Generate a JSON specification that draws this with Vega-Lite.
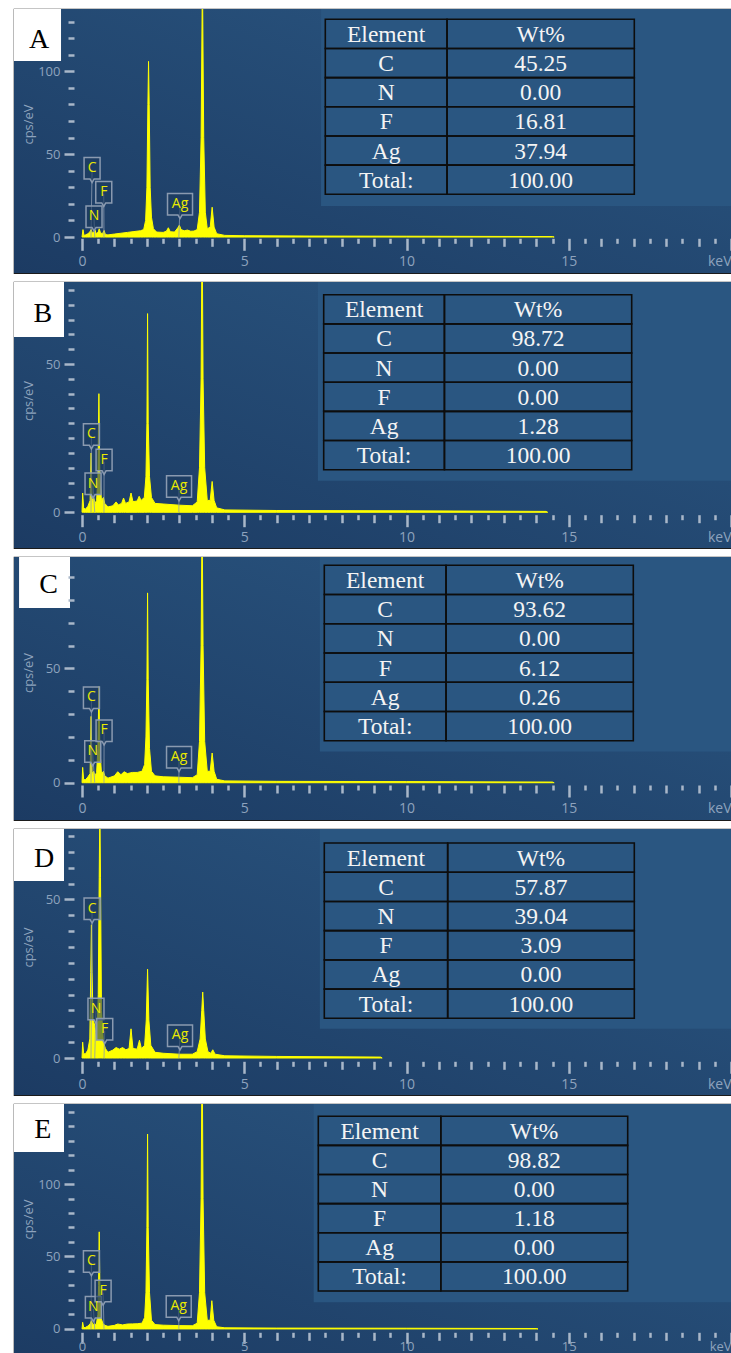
{
  "$schema": "https://vega.github.io/schema/vega-lite/v6.json",
  "background": "white",
  "padding": {"left": 13, "top": 8, "right": 0, "bottom": 0},
  "spacing": 7,
  "config": {
    "view": {"stroke": "#1b1b1b", "strokeWidth": 1.2},
    "axis": {"zindex": 1, "domain": false, "grid": false, "tickColor": "#a9b7c9", "tickWidth": 2.5, "labelColor": "#8ea3bd", "labelFont": "Open Sans", "titleColor": "#8ea3bd", "titleFont": "Open Sans", "titleFontWeight": "normal", "labelFlush": false, "labelOverlap": false}
  },
  "datasets": {
    "sA": [{"keV":0,"cps":0},{"keV":0.03,"cps":4.5},{"keV":0.06,"cps":1},{"keV":0.1,"cps":1.2},{"keV":0.18,"cps":2},{"keV":0.24,"cps":3},{"keV":0.28,"cps":4.5},{"keV":0.32,"cps":2.5},{"keV":0.37,"cps":3},{"keV":0.4,"cps":4.2},{"keV":0.44,"cps":2},{"keV":0.5,"cps":3},{"keV":0.53,"cps":5},{"keV":0.57,"cps":2.5},{"keV":0.63,"cps":2},{"keV":0.68,"cps":4},{"keV":0.72,"cps":1.5},{"keV":0.8,"cps":1.3},{"keV":1,"cps":1.8},{"keV":1.2,"cps":2.3},{"keV":1.4,"cps":2.8},{"keV":1.6,"cps":3.3},{"keV":1.8,"cps":3.8},{"keV":1.9,"cps":4.5},{"keV":1.96,"cps":10},{"keV":2,"cps":30},{"keV":2.03,"cps":80},{"keV":2.05,"cps":106},{"keV":2.07,"cps":80},{"keV":2.1,"cps":30},{"keV":2.14,"cps":12},{"keV":2.2,"cps":5},{"keV":2.3,"cps":3},{"keV":2.5,"cps":2.8},{"keV":2.6,"cps":3.5},{"keV":2.66,"cps":5.6},{"keV":2.72,"cps":3.2},{"keV":2.85,"cps":3},{"keV":2.95,"cps":5.5},{"keV":3,"cps":7.2},{"keV":3.05,"cps":4.5},{"keV":3.15,"cps":3.8},{"keV":3.25,"cps":4.2},{"keV":3.35,"cps":3.5},{"keV":3.45,"cps":3.6},{"keV":3.55,"cps":4.5},{"keV":3.62,"cps":15},{"keV":3.67,"cps":60},{"keV":3.71,"cps":160},{"keV":3.75,"cps":60},{"keV":3.8,"cps":15},{"keV":3.86,"cps":5},{"keV":3.95,"cps":6},{"keV":4.01,"cps":18},{"keV":4.07,"cps":6},{"keV":4.15,"cps":2},{"keV":4.4,"cps":1},{"keV":5,"cps":0.8},{"keV":7,"cps":0.6},{"keV":10,"cps":0.5},{"keV":14.5,"cps":0.3},{"keV":14.55,"cps":0}],
    "sB": [{"keV":0,"cps":0},{"keV":0.02,"cps":6.5},{"keV":0.05,"cps":1.5},{"keV":0.1,"cps":1},{"keV":0.18,"cps":2},{"keV":0.25,"cps":4},{"keV":0.28,"cps":20},{"keV":0.31,"cps":4},{"keV":0.36,"cps":5},{"keV":0.4,"cps":3},{"keV":0.45,"cps":4},{"keV":0.49,"cps":12},{"keV":0.52,"cps":40},{"keV":0.55,"cps":12},{"keV":0.6,"cps":4},{"keV":0.66,"cps":5},{"keV":0.7,"cps":3},{"keV":0.8,"cps":1.8},{"keV":0.95,"cps":2.2},{"keV":1.05,"cps":3.5},{"keV":1.12,"cps":2.5},{"keV":1.22,"cps":3},{"keV":1.28,"cps":4.8},{"keV":1.34,"cps":3},{"keV":1.45,"cps":3.5},{"keV":1.51,"cps":6.5},{"keV":1.57,"cps":3.6},{"keV":1.7,"cps":3.8},{"keV":1.76,"cps":5.4},{"keV":1.82,"cps":4},{"keV":1.92,"cps":5},{"keV":1.97,"cps":12},{"keV":2,"cps":30},{"keV":2.02,"cps":67},{"keV":2.04,"cps":30},{"keV":2.08,"cps":12},{"keV":2.14,"cps":5},{"keV":2.25,"cps":3},{"keV":2.5,"cps":2.8},{"keV":3,"cps":2.4},{"keV":3.4,"cps":2.2},{"keV":3.55,"cps":3.5},{"keV":3.62,"cps":15},{"keV":3.67,"cps":45},{"keV":3.7,"cps":100},{"keV":3.73,"cps":45},{"keV":3.78,"cps":15},{"keV":3.86,"cps":4},{"keV":3.95,"cps":4},{"keV":4.01,"cps":10.4},{"keV":4.07,"cps":4},{"keV":4.15,"cps":1.5},{"keV":4.4,"cps":0.8},{"keV":6,"cps":0.6},{"keV":10,"cps":0.5},{"keV":14.3,"cps":0.3},{"keV":14.35,"cps":0}],
    "sC": [{"keV":0,"cps":0},{"keV":0.02,"cps":6.7},{"keV":0.05,"cps":1.5},{"keV":0.1,"cps":1.2},{"keV":0.18,"cps":2.5},{"keV":0.25,"cps":4},{"keV":0.28,"cps":29},{"keV":0.31,"cps":4},{"keV":0.36,"cps":5},{"keV":0.4,"cps":3},{"keV":0.45,"cps":4.5},{"keV":0.49,"cps":15},{"keV":0.52,"cps":42},{"keV":0.55,"cps":15},{"keV":0.6,"cps":4},{"keV":0.66,"cps":5},{"keV":0.7,"cps":3},{"keV":0.8,"cps":2},{"keV":1,"cps":3},{"keV":1.1,"cps":4.8},{"keV":1.2,"cps":3.5},{"keV":1.3,"cps":4.8},{"keV":1.4,"cps":4},{"keV":1.55,"cps":4.5},{"keV":1.7,"cps":4.5},{"keV":1.85,"cps":5},{"keV":1.93,"cps":8},{"keV":1.97,"cps":20},{"keV":2,"cps":45},{"keV":2.02,"cps":83},{"keV":2.04,"cps":45},{"keV":2.08,"cps":15},{"keV":2.14,"cps":5},{"keV":2.25,"cps":3},{"keV":2.5,"cps":2.6},{"keV":3,"cps":2.4},{"keV":3.4,"cps":2.2},{"keV":3.55,"cps":3.5},{"keV":3.62,"cps":18},{"keV":3.67,"cps":60},{"keV":3.7,"cps":120},{"keV":3.73,"cps":60},{"keV":3.78,"cps":18},{"keV":3.86,"cps":5},{"keV":3.95,"cps":5},{"keV":4.01,"cps":13},{"keV":4.07,"cps":5},{"keV":4.15,"cps":1.5},{"keV":4.4,"cps":0.8},{"keV":6,"cps":0.6},{"keV":10,"cps":0.5},{"keV":14.5,"cps":0.3},{"keV":14.55,"cps":0}],
    "sD": [{"keV":0,"cps":0},{"keV":0.02,"cps":5},{"keV":0.05,"cps":1.5},{"keV":0.1,"cps":1.2},{"keV":0.18,"cps":2.5},{"keV":0.24,"cps":6},{"keV":0.27,"cps":27},{"keV":0.29,"cps":42},{"keV":0.31,"cps":27},{"keV":0.34,"cps":12},{"keV":0.38,"cps":10.8},{"keV":0.42,"cps":8},{"keV":0.46,"cps":6},{"keV":0.5,"cps":20},{"keV":0.53,"cps":57},{"keV":0.55,"cps":80},{"keV":0.57,"cps":57},{"keV":0.6,"cps":15},{"keV":0.66,"cps":5},{"keV":0.72,"cps":3},{"keV":0.8,"cps":1.8},{"keV":0.95,"cps":2.5},{"keV":1.05,"cps":3.3},{"keV":1.15,"cps":2.8},{"keV":1.25,"cps":3.3},{"keV":1.35,"cps":2.6},{"keV":1.45,"cps":3},{"keV":1.51,"cps":9.2},{"keV":1.57,"cps":3},{"keV":1.7,"cps":2.8},{"keV":1.77,"cps":5.6},{"keV":1.83,"cps":3},{"keV":1.93,"cps":4},{"keV":1.98,"cps":12},{"keV":2.02,"cps":28},{"keV":2.06,"cps":12},{"keV":2.12,"cps":4},{"keV":2.25,"cps":1.8},{"keV":2.5,"cps":1.5},{"keV":3,"cps":1.2},{"keV":3.4,"cps":1.2},{"keV":3.55,"cps":2},{"keV":3.64,"cps":6},{"keV":3.69,"cps":15},{"keV":3.72,"cps":20.8},{"keV":3.75,"cps":15},{"keV":3.8,"cps":6},{"keV":3.88,"cps":2},{"keV":3.97,"cps":1.5},{"keV":4.03,"cps":2.6},{"keV":4.1,"cps":1.2},{"keV":4.4,"cps":0.7},{"keV":6,"cps":0.5},{"keV":9.2,"cps":0.3},{"keV":9.25,"cps":0}],
    "sE": [{"keV":0,"cps":0},{"keV":0.02,"cps":4.6},{"keV":0.05,"cps":1},{"keV":0.1,"cps":1},{"keV":0.18,"cps":2},{"keV":0.25,"cps":3.5},{"keV":0.29,"cps":5.7},{"keV":0.33,"cps":3},{"keV":0.38,"cps":3.5},{"keV":0.44,"cps":3},{"keV":0.49,"cps":10},{"keV":0.51,"cps":30},{"keV":0.53,"cps":67},{"keV":0.55,"cps":30},{"keV":0.58,"cps":8},{"keV":0.64,"cps":4},{"keV":0.7,"cps":2.5},{"keV":0.8,"cps":1.8},{"keV":1,"cps":2.5},{"keV":1.1,"cps":3.4},{"keV":1.25,"cps":2.8},{"keV":1.4,"cps":3.4},{"keV":1.55,"cps":3.5},{"keV":1.7,"cps":3.6},{"keV":1.85,"cps":4},{"keV":1.93,"cps":8},{"keV":1.97,"cps":25},{"keV":2,"cps":70},{"keV":2.02,"cps":134.5},{"keV":2.04,"cps":70},{"keV":2.08,"cps":25},{"keV":2.14,"cps":6},{"keV":2.25,"cps":3},{"keV":2.5,"cps":2.6},{"keV":3,"cps":2.3},{"keV":3.4,"cps":2.2},{"keV":3.55,"cps":4},{"keV":3.62,"cps":25},{"keV":3.67,"cps":90},{"keV":3.7,"cps":200},{"keV":3.73,"cps":90},{"keV":3.78,"cps":25},{"keV":3.86,"cps":6},{"keV":3.95,"cps":6},{"keV":4,"cps":19.5},{"keV":4.06,"cps":6},{"keV":4.15,"cps":1.5},{"keV":4.4,"cps":0.8},{"keV":6,"cps":0.6},{"keV":10,"cps":0.5},{"keV":14,"cps":0.3},{"keV":14.05,"cps":0}],
    "tags": [
      {"p":"A","el":"C","keV":0.31,"cps":40.4,"line":0.277},{"p":"A","el":"N","keV":0.37,"cps":11.2,"line":0.392},{"p":"A","el":"F","keV":0.67,"cps":26,"line":0.677},{"p":"A","el":"Ag","keV":3.02,"cps":18.7,"line":2.984},
      {"p":"B","el":"C","keV":0.29,"cps":25.6,"line":0.277},{"p":"B","el":"N","keV":0.34,"cps":9,"line":0.392},{"p":"B","el":"F","keV":0.68,"cps":17,"line":0.677},{"p":"B","el":"Ag","keV":2.99,"cps":8.1,"line":2.984},
      {"p":"C","el":"C","keV":0.29,"cps":36.4,"line":0.277},{"p":"C","el":"N","keV":0.33,"cps":12.9,"line":0.392},{"p":"C","el":"F","keV":0.68,"cps":22,"line":0.677},{"p":"C","el":"Ag","keV":2.99,"cps":10.4,"line":2.984},
      {"p":"D","el":"C","keV":0.31,"cps":46.5,"line":0.277},{"p":"D","el":"N","keV":0.43,"cps":14.9,"line":0.392},{"p":"D","el":"F","keV":0.7,"cps":8.5,"line":0.677},{"p":"D","el":"Ag","keV":3.02,"cps":6.5,"line":2.984},
      {"p":"E","el":"C","keV":0.29,"cps":45.4,"line":0.277},{"p":"E","el":"N","keV":0.35,"cps":13.8,"line":0.392},{"p":"E","el":"F","keV":0.65,"cps":25,"line":0.677},{"p":"E","el":"Ag","keV":2.98,"cps":14.3,"line":2.984}
    ],
    "tbl": [
      {"p":"A","item":"Element","wt":"Wt%"},{"p":"A","item":"C","wt":"45.25"},{"p":"A","item":"N","wt":"0.00"},{"p":"A","item":"F","wt":"16.81"},{"p":"A","item":"Ag","wt":"37.94"},{"p":"A","item":"Total:","wt":"100.00"},
      {"p":"B","item":"Element","wt":"Wt%"},{"p":"B","item":"C","wt":"98.72"},{"p":"B","item":"N","wt":"0.00"},{"p":"B","item":"F","wt":"0.00"},{"p":"B","item":"Ag","wt":"1.28"},{"p":"B","item":"Total:","wt":"100.00"},
      {"p":"C","item":"Element","wt":"Wt%"},{"p":"C","item":"C","wt":"93.62"},{"p":"C","item":"N","wt":"0.00"},{"p":"C","item":"F","wt":"6.12"},{"p":"C","item":"Ag","wt":"0.26"},{"p":"C","item":"Total:","wt":"100.00"},
      {"p":"D","item":"Element","wt":"Wt%"},{"p":"D","item":"C","wt":"57.87"},{"p":"D","item":"N","wt":"39.04"},{"p":"D","item":"F","wt":"3.09"},{"p":"D","item":"Ag","wt":"0.00"},{"p":"D","item":"Total:","wt":"100.00"},
      {"p":"E","item":"Element","wt":"Wt%"},{"p":"E","item":"C","wt":"98.82"},{"p":"E","item":"N","wt":"0.00"},{"p":"E","item":"F","wt":"1.18"},{"p":"E","item":"Ag","wt":"0.00"},{"p":"E","item":"Total:","wt":"100.00"}
    ]
  },
  "vconcat": [
    {
      "width": 718, "height": 264,
      "resolve": {"scale": {"x": "independent", "y": "independent"}},
      "layer": [
        {
          "resolve": {"axis": {"x": "independent", "y": "independent"}},
          "layer": [
            {"data": {"values": [{}]}, "mark": {"type": "rect", "fill": {"gradient": "linear", "x1": 0, "y1": 1, "x2": 1, "y2": 0, "stops": [{"offset": 0, "color": "#1c3b63"}, {"offset": 1, "color": "#2b5782"}]}}, "encoding": {"x": {"value": 0}, "x2": {"value": "width"}, "y": {"value": 0}, "y2": {"value": "height"}}},
            {"data": {"name": "sA"}, "mark": {"type": "area", "color": "#ffff00", "stroke": "#ffff00", "strokeWidth": 1, "clip": true},
             "encoding": {
               "x": {"field": "keV", "type": "quantitative", "scale": {"domain": [-2.096, 20.03], "nice": false, "zero": false},
                     "axis": {"orient": "bottom", "zindex": 2, "values": [0,0.5,1,1.5,2,2.5,3,3.5,4,4.5,5,5.5,6,6.5,7,7.5,8,8.5,9,9.5,10,10.5,11,11.5,12,12.5,13,13.5,14,14.5,15,15.5,16,16.5,17,17.5,18,18.5,19,19.5,20], "labelExpr": "datum.value % 5 === 0 ? (datum.value === 20 ? 'keV' : format(datum.value, 'd')) : ''", "labelAlign": {"condition": {"test": "datum.value === 20", "value": "right"}, "value": "center"}, "tickSize": {"condition": [{"test": "datum.value % 5 === 0", "value": 12}, {"test": "datum.value % 1 === 0", "value": 8}], "value": 5}, "offset": -34.7, "title": null, "labelFontSize": 14, "labelPadding": 4}},
               "y": {"field": "cps", "type": "quantitative", "scale": {"domain": [-21.7, 137.6], "nice": false, "zero": false},
                     "axis": {"orient": "left", "zindex": 2, "values": [0,10,20,30,40,50,60,70,80,90,100,110,120,130], "labelExpr": "datum.value === 0 || datum.value === 50 || datum.value === 100 ? format(datum.value, 'd') : ''", "tickSize": {"condition": {"test": "datum.value === 0 || datum.value === 50 || datum.value === 100", "value": 10}, "value": 6}, "offset": -60, "title": "cps/eV", "titleX": -39, "titleY": 115, "titleAngle": 270, "titleBaseline": "bottom", "titleAlign": "center", "titleFontSize": 13, "labelFontSize": 13, "labelPadding": 4}}
             }},
            {"data": {"values": [{}]}, "mark": {"type": "rect", "fill": "#2a5681"}, "encoding": {"x": {"datum": 7.365, "type": "quantitative", "axis": null}, "x2": {"datum": 20.03}, "y": {"datum": 18.7, "type": "quantitative", "axis": null}, "y2": {"datum": 137.6}}},
            {"data": {"name": "tags"}, "transform": [{"filter": "datum.p === 'A'"}], "mark": {"type": "rule", "color": "#8c9bb0", "strokeWidth": 1, "opacity": 0.8},
             "encoding": {"x": {"field": "keV", "type": "quantitative", "axis": null}, "x2": {"field": "line"}, "y": {"field": "cps", "type": "quantitative", "axis": null}, "y2": {"datum": 0}}},
            {"data": {"name": "tags"}, "transform": [{"filter": "datum.p === 'A' && datum.el !== 'Ag'"}], "mark": {"type": "point", "shape": "M-0.64,-1L0.64,-1L0.64,0.72L0.16,0.72L0,1L-0.16,0.72L-0.64,0.72Z", "size": 625, "filled": true, "fill": "#1d3a5e", "fillOpacity": 0.6, "stroke": "#8a9ab0", "strokeWidth": 1.5, "opacity": 1},
             "encoding": {"x": {"field": "keV", "type": "quantitative", "axis": null}, "y": {"field": "cps", "type": "quantitative", "axis": null}}},
            {"data": {"name": "tags"}, "transform": [{"filter": "datum.p === 'A' && datum.el === 'Ag'"}], "mark": {"type": "point", "shape": "M-1,-1L1,-1L1,0.72L0.16,0.72L0,1L-0.16,0.72L-1,0.72Z", "size": 625, "filled": true, "fill": "#1d3a5e", "fillOpacity": 0.6, "stroke": "#8a9ab0", "strokeWidth": 1.5, "opacity": 1},
             "encoding": {"x": {"field": "keV", "type": "quantitative", "axis": null}, "y": {"field": "cps", "type": "quantitative", "axis": null}}},
            {"data": {"name": "tags"}, "transform": [{"filter": "datum.p === 'A'"}], "mark": {"type": "text", "font": "Open Sans", "fontSize": 14, "color": "#eaea00", "baseline": "middle", "dy": -2},
             "encoding": {"x": {"field": "keV", "type": "quantitative", "axis": null}, "y": {"field": "cps", "type": "quantitative", "axis": null}, "text": {"field": "el"}}},
            {"data": {"values": [{}]}, "mark": {"type": "rect", "fill": "white"}, "encoding": {"x": {"datum": -2.096, "type": "quantitative", "axis": null}, "x2": {"datum": -0.647}, "y": {"datum": 106.2, "type": "quantitative", "axis": null}, "y2": {"datum": 137.6}}},
            {"data": {"values": [{"panel": "A"}]}, "mark": {"type": "text", "font": "Liberation Serif", "fontSize": 28, "color": "black", "baseline": "alphabetic"}, "encoding": {"x": {"datum": -1.325, "type": "quantitative", "axis": null}, "y": {"datum": 114.2, "type": "quantitative", "axis": null}, "text": {"field": "panel"}}}
          ]
        },
        {
          "data": {"name": "tbl"},
          "transform": [{"filter": "datum.p === 'A'"}],
          "layer": [
            {"mark": {"type": "rect", "fill": "transparent", "stroke": "#0d0d0d", "strokeWidth": 1.6}, "encoding": {"x": {"datum": 0, "type": "quantitative", "scale": {"domain": [0, 5], "range": [311.3, 620.3], "nice": false, "zero": false}, "axis": null}, "x2": {"datum": 1.97}, "y": {"field": "item", "type": "nominal", "sort": null, "scale": {"domain": ["Element","C","N","F","Ag","Total:"], "range": [10.3, 185.3], "paddingInner": 0, "paddingOuter": 0}, "axis": null}}},
            {"mark": {"type": "rect", "fill": "transparent", "stroke": "#0d0d0d", "strokeWidth": 1.6}, "encoding": {"x": {"datum": 1.97, "type": "quantitative", "scale": {"domain": [0, 5], "range": [311.3, 620.3], "nice": false, "zero": false}, "axis": null}, "x2": {"datum": 5}, "y": {"field": "item", "type": "nominal", "sort": null, "scale": {"domain": ["Element","C","N","F","Ag","Total:"], "range": [10.3, 185.3], "paddingInner": 0, "paddingOuter": 0}, "axis": null}}},
            {"mark": {"type": "text", "font": "Liberation Serif", "fontSize": 23.5, "color": "#f4f4f4", "baseline": "middle", "dy": 1}, "encoding": {"x": {"datum": 0.985, "type": "quantitative", "scale": {"domain": [0, 5], "range": [311.3, 620.3], "nice": false, "zero": false}, "axis": null}, "y": {"field": "item", "type": "nominal", "sort": null, "scale": {"domain": ["Element","C","N","F","Ag","Total:"], "range": [10.3, 185.3], "paddingInner": 0, "paddingOuter": 0}, "axis": null}, "text": {"field": "item"}}},
            {"mark": {"type": "text", "font": "Liberation Serif", "fontSize": 23.5, "color": "#f4f4f4", "baseline": "middle", "dy": 1}, "encoding": {"x": {"datum": 3.485, "type": "quantitative", "scale": {"domain": [0, 5], "range": [311.3, 620.3], "nice": false, "zero": false}, "axis": null}, "y": {"field": "item", "type": "nominal", "sort": null, "scale": {"domain": ["Element","C","N","F","Ag","Total:"], "range": [10.3, 185.3], "paddingInner": 0, "paddingOuter": 0}, "axis": null}, "text": {"field": "wt"}}}
          ]
        }
      ]
    },
    {
      "width": 718, "height": 266,
      "resolve": {"scale": {"x": "independent", "y": "independent"}},
      "layer": [
        {
          "resolve": {"axis": {"x": "independent", "y": "independent"}},
          "layer": [
            {"data": {"values": [{}]}, "mark": {"type": "rect", "fill": {"gradient": "linear", "x1": 0, "y1": 1, "x2": 1, "y2": 0, "stops": [{"offset": 0, "color": "#1c3b63"}, {"offset": 1, "color": "#2b5782"}]}}, "encoding": {"x": {"value": 0}, "x2": {"value": "width"}, "y": {"value": 0}, "y2": {"value": "height"}}},
            {"data": {"name": "sB"}, "mark": {"type": "area", "color": "#ffff00", "stroke": "#ffff00", "strokeWidth": 1, "clip": true},
             "encoding": {
               "x": {"field": "keV", "type": "quantitative", "scale": {"domain": [-2.096, 20.03], "nice": false, "zero": false},
                     "axis": {"orient": "bottom", "zindex": 2, "values": [0,0.5,1,1.5,2,2.5,3,3.5,4,4.5,5,5.5,6,6.5,7,7.5,8,8.5,9,9.5,10,10.5,11,11.5,12,12.5,13,13.5,14,14.5,15,15.5,16,16.5,17,17.5,18,18.5,19,19.5,20], "labelExpr": "datum.value % 5 === 0 ? (datum.value === 20 ? 'keV' : format(datum.value, 'd')) : ''", "labelAlign": {"condition": {"test": "datum.value === 20", "value": "right"}, "value": "center"}, "tickSize": {"condition": [{"test": "datum.value % 5 === 0", "value": 12}, {"test": "datum.value % 1 === 0", "value": 8}], "value": 5}, "offset": -33.3, "title": null, "labelFontSize": 14, "labelPadding": 4}},
               "y": {"field": "cps", "type": "quantitative", "scale": {"domain": [-12.04, 77.65], "nice": false, "zero": false},
                     "axis": {"orient": "left", "zindex": 2, "values": [0,5,10,15,20,25,30,35,40,45,50,55,60,65,70,75], "labelExpr": "datum.value === 0 || datum.value === 50 ? format(datum.value, 'd') : ''", "tickSize": {"condition": {"test": "datum.value === 0 || datum.value === 50", "value": 10}, "value": 6}, "offset": -60, "title": "cps/eV", "titleX": -39, "titleY": 118.5, "titleAngle": 270, "titleBaseline": "bottom", "titleAlign": "center", "titleFontSize": 13, "labelFontSize": 13, "labelPadding": 4}}
             }},
            {"data": {"values": [{}]}, "mark": {"type": "rect", "fill": "#2a5681"}, "encoding": {"x": {"datum": 7.27, "type": "quantitative", "axis": null}, "x2": {"datum": 20.03}, "y": {"datum": 10.65, "type": "quantitative", "axis": null}, "y2": {"datum": 77.65}}},
            {"data": {"name": "tags"}, "transform": [{"filter": "datum.p === 'B'"}], "mark": {"type": "rule", "color": "#8c9bb0", "strokeWidth": 1, "opacity": 0.8},
             "encoding": {"x": {"field": "keV", "type": "quantitative", "axis": null}, "x2": {"field": "line"}, "y": {"field": "cps", "type": "quantitative", "axis": null}, "y2": {"datum": 0}}},
            {"data": {"name": "tags"}, "transform": [{"filter": "datum.p === 'B' && datum.el !== 'Ag'"}], "mark": {"type": "point", "shape": "M-0.64,-1L0.64,-1L0.64,0.72L0.16,0.72L0,1L-0.16,0.72L-0.64,0.72Z", "size": 625, "filled": true, "fill": "#1d3a5e", "fillOpacity": 0.6, "stroke": "#8a9ab0", "strokeWidth": 1.5, "opacity": 1},
             "encoding": {"x": {"field": "keV", "type": "quantitative", "axis": null}, "y": {"field": "cps", "type": "quantitative", "axis": null}}},
            {"data": {"name": "tags"}, "transform": [{"filter": "datum.p === 'B' && datum.el === 'Ag'"}], "mark": {"type": "point", "shape": "M-1,-1L1,-1L1,0.72L0.16,0.72L0,1L-0.16,0.72L-1,0.72Z", "size": 625, "filled": true, "fill": "#1d3a5e", "fillOpacity": 0.6, "stroke": "#8a9ab0", "strokeWidth": 1.5, "opacity": 1},
             "encoding": {"x": {"field": "keV", "type": "quantitative", "axis": null}, "y": {"field": "cps", "type": "quantitative", "axis": null}}},
            {"data": {"name": "tags"}, "transform": [{"filter": "datum.p === 'B'"}], "mark": {"type": "text", "font": "Open Sans", "fontSize": 14, "color": "#eaea00", "baseline": "middle", "dy": -2},
             "encoding": {"x": {"field": "keV", "type": "quantitative", "axis": null}, "y": {"field": "cps", "type": "quantitative", "axis": null}, "text": {"field": "el"}}},
            {"data": {"values": [{}]}, "mark": {"type": "rect", "fill": "white"}, "encoding": {"x": {"datum": -2.096, "type": "quantitative", "axis": null}, "x2": {"datum": -0.555}, "y": {"datum": 59.1, "type": "quantitative", "axis": null}, "y2": {"datum": 77.65}}},
            {"data": {"values": [{"panel": "B"}]}, "mark": {"type": "text", "font": "Liberation Serif", "fontSize": 28, "color": "black", "baseline": "alphabetic"}, "encoding": {"x": {"datum": -1.21, "type": "quantitative", "axis": null}, "y": {"datum": 64.1, "type": "quantitative", "axis": null}, "text": {"field": "panel"}}}
          ]
        },
        {
          "data": {"name": "tbl"},
          "transform": [{"filter": "datum.p === 'B'"}],
          "layer": [
            {"mark": {"type": "rect", "fill": "transparent", "stroke": "#0d0d0d", "strokeWidth": 1.6}, "encoding": {"x": {"datum": 0, "type": "quantitative", "scale": {"domain": [0, 5], "range": [309.7, 617.7], "nice": false, "zero": false}, "axis": null}, "x2": {"datum": 1.96}, "y": {"field": "item", "type": "nominal", "sort": null, "scale": {"domain": ["Element","C","N","F","Ag","Total:"], "range": [12.7, 187.7], "paddingInner": 0, "paddingOuter": 0}, "axis": null}}},
            {"mark": {"type": "rect", "fill": "transparent", "stroke": "#0d0d0d", "strokeWidth": 1.6}, "encoding": {"x": {"datum": 1.96, "type": "quantitative", "scale": {"domain": [0, 5], "range": [309.7, 617.7], "nice": false, "zero": false}, "axis": null}, "x2": {"datum": 5}, "y": {"field": "item", "type": "nominal", "sort": null, "scale": {"domain": ["Element","C","N","F","Ag","Total:"], "range": [12.7, 187.7], "paddingInner": 0, "paddingOuter": 0}, "axis": null}}},
            {"mark": {"type": "text", "font": "Liberation Serif", "fontSize": 23.5, "color": "#f4f4f4", "baseline": "middle", "dy": 1}, "encoding": {"x": {"datum": 0.98, "type": "quantitative", "scale": {"domain": [0, 5], "range": [309.7, 617.7], "nice": false, "zero": false}, "axis": null}, "y": {"field": "item", "type": "nominal", "sort": null, "scale": {"domain": ["Element","C","N","F","Ag","Total:"], "range": [12.7, 187.7], "paddingInner": 0, "paddingOuter": 0}, "axis": null}, "text": {"field": "item"}}},
            {"mark": {"type": "text", "font": "Liberation Serif", "fontSize": 23.5, "color": "#f4f4f4", "baseline": "middle", "dy": 1}, "encoding": {"x": {"datum": 3.48, "type": "quantitative", "scale": {"domain": [0, 5], "range": [309.7, 617.7], "nice": false, "zero": false}, "axis": null}, "y": {"field": "item", "type": "nominal", "sort": null, "scale": {"domain": ["Element","C","N","F","Ag","Total:"], "range": [12.7, 187.7], "paddingInner": 0, "paddingOuter": 0}, "axis": null}, "text": {"field": "wt"}}}
          ]
        }
      ]
    },
    {
      "width": 718, "height": 263,
      "resolve": {"scale": {"x": "independent", "y": "independent"}},
      "layer": [
        {
          "resolve": {"axis": {"x": "independent", "y": "independent"}},
          "layer": [
            {"data": {"values": [{}]}, "mark": {"type": "rect", "fill": {"gradient": "linear", "x1": 0, "y1": 1, "x2": 1, "y2": 0, "stops": [{"offset": 0, "color": "#1c3b63"}, {"offset": 1, "color": "#2b5782"}]}}, "encoding": {"x": {"value": 0}, "x2": {"value": "width"}, "y": {"value": 0}, "y2": {"value": "height"}}},
            {"data": {"name": "sC"}, "mark": {"type": "area", "color": "#ffff00", "stroke": "#ffff00", "strokeWidth": 1, "clip": true},
             "encoding": {
               "x": {"field": "keV", "type": "quantitative", "scale": {"domain": [-2.096, 20.03], "nice": false, "zero": false},
                     "axis": {"orient": "bottom", "zindex": 2, "values": [0,0.5,1,1.5,2,2.5,3,3.5,4,4.5,5,5.5,6,6.5,7,7.5,8,8.5,9,9.5,10,10.5,11,11.5,12,12.5,13,13.5,14,14.5,15,15.5,16,16.5,17,17.5,18,18.5,19,19.5,20], "labelExpr": "datum.value % 5 === 0 ? (datum.value === 20 ? 'keV' : format(datum.value, 'd')) : ''", "labelAlign": {"condition": {"test": "datum.value === 20", "value": "right"}, "value": "center"}, "tickSize": {"condition": [{"test": "datum.value % 5 === 0", "value": 12}, {"test": "datum.value % 1 === 0", "value": 8}], "value": 5}, "offset": -35, "title": null, "labelFontSize": 14, "labelPadding": 4}},
               "y": {"field": "cps", "type": "quantitative", "scale": {"domain": [-16.3, 98.7], "nice": false, "zero": false},
                     "axis": {"orient": "left", "zindex": 2, "values": [0,10,20,30,40,50,60,70,80,90], "labelExpr": "datum.value === 0 || datum.value === 50 ? format(datum.value, 'd') : ''", "tickSize": {"condition": {"test": "datum.value === 0 || datum.value === 50", "value": 10}, "value": 6}, "offset": -60, "title": "cps/eV", "titleX": -39, "titleY": 115.5, "titleAngle": 270, "titleBaseline": "bottom", "titleAlign": "center", "titleFontSize": 13, "labelFontSize": 13, "labelPadding": 4}}
             }},
            {"data": {"values": [{}]}, "mark": {"type": "rect", "fill": "#2a5681"}, "encoding": {"x": {"datum": 7.33, "type": "quantitative", "axis": null}, "x2": {"datum": 20.03}, "y": {"datum": 13.6, "type": "quantitative", "axis": null}, "y2": {"datum": 98.7}}},
            {"data": {"name": "tags"}, "transform": [{"filter": "datum.p === 'C'"}], "mark": {"type": "rule", "color": "#8c9bb0", "strokeWidth": 1, "opacity": 0.8},
             "encoding": {"x": {"field": "keV", "type": "quantitative", "axis": null}, "x2": {"field": "line"}, "y": {"field": "cps", "type": "quantitative", "axis": null}, "y2": {"datum": 0}}},
            {"data": {"name": "tags"}, "transform": [{"filter": "datum.p === 'C' && datum.el !== 'Ag'"}], "mark": {"type": "point", "shape": "M-0.64,-1L0.64,-1L0.64,0.72L0.16,0.72L0,1L-0.16,0.72L-0.64,0.72Z", "size": 625, "filled": true, "fill": "#1d3a5e", "fillOpacity": 0.6, "stroke": "#8a9ab0", "strokeWidth": 1.5, "opacity": 1},
             "encoding": {"x": {"field": "keV", "type": "quantitative", "axis": null}, "y": {"field": "cps", "type": "quantitative", "axis": null}}},
            {"data": {"name": "tags"}, "transform": [{"filter": "datum.p === 'C' && datum.el === 'Ag'"}], "mark": {"type": "point", "shape": "M-1,-1L1,-1L1,0.72L0.16,0.72L0,1L-0.16,0.72L-1,0.72Z", "size": 625, "filled": true, "fill": "#1d3a5e", "fillOpacity": 0.6, "stroke": "#8a9ab0", "strokeWidth": 1.5, "opacity": 1},
             "encoding": {"x": {"field": "keV", "type": "quantitative", "axis": null}, "y": {"field": "cps", "type": "quantitative", "axis": null}}},
            {"data": {"name": "tags"}, "transform": [{"filter": "datum.p === 'C'"}], "mark": {"type": "text", "font": "Open Sans", "fontSize": 14, "color": "#eaea00", "baseline": "middle", "dy": -2},
             "encoding": {"x": {"field": "keV", "type": "quantitative", "axis": null}, "y": {"field": "cps", "type": "quantitative", "axis": null}, "text": {"field": "el"}}},
            {"data": {"values": [{}]}, "mark": {"type": "rect", "fill": "white"}, "encoding": {"x": {"datum": -1.94, "type": "quantitative", "axis": null}, "x2": {"datum": -0.37}, "y": {"datum": 76.4, "type": "quantitative", "axis": null}, "y2": {"datum": 98.7}}},
            {"data": {"values": [{"panel": "C"}]}, "mark": {"type": "text", "font": "Liberation Serif", "fontSize": 28, "color": "black", "baseline": "alphabetic"}, "encoding": {"x": {"datum": -1.03, "type": "quantitative", "axis": null}, "y": {"datum": 82.8, "type": "quantitative", "axis": null}, "text": {"field": "panel"}}}
          ]
        },
        {
          "data": {"name": "tbl"},
          "transform": [{"filter": "datum.p === 'C'"}],
          "layer": [
            {"mark": {"type": "rect", "fill": "transparent", "stroke": "#0d0d0d", "strokeWidth": 1.6}, "encoding": {"x": {"datum": 0, "type": "quantitative", "scale": {"domain": [0, 5], "range": [310.3, 619.3], "nice": false, "zero": false}, "axis": null}, "x2": {"datum": 1.97}, "y": {"field": "item", "type": "nominal", "sort": null, "scale": {"domain": ["Element","C","N","F","Ag","Total:"], "range": [8.3, 183.7], "paddingInner": 0, "paddingOuter": 0}, "axis": null}}},
            {"mark": {"type": "rect", "fill": "transparent", "stroke": "#0d0d0d", "strokeWidth": 1.6}, "encoding": {"x": {"datum": 1.97, "type": "quantitative", "scale": {"domain": [0, 5], "range": [310.3, 619.3], "nice": false, "zero": false}, "axis": null}, "x2": {"datum": 5}, "y": {"field": "item", "type": "nominal", "sort": null, "scale": {"domain": ["Element","C","N","F","Ag","Total:"], "range": [8.3, 183.7], "paddingInner": 0, "paddingOuter": 0}, "axis": null}}},
            {"mark": {"type": "text", "font": "Liberation Serif", "fontSize": 23.5, "color": "#f4f4f4", "baseline": "middle", "dy": 1}, "encoding": {"x": {"datum": 0.985, "type": "quantitative", "scale": {"domain": [0, 5], "range": [310.3, 619.3], "nice": false, "zero": false}, "axis": null}, "y": {"field": "item", "type": "nominal", "sort": null, "scale": {"domain": ["Element","C","N","F","Ag","Total:"], "range": [8.3, 183.7], "paddingInner": 0, "paddingOuter": 0}, "axis": null}, "text": {"field": "item"}}},
            {"mark": {"type": "text", "font": "Liberation Serif", "fontSize": 23.5, "color": "#f4f4f4", "baseline": "middle", "dy": 1}, "encoding": {"x": {"datum": 3.485, "type": "quantitative", "scale": {"domain": [0, 5], "range": [310.3, 619.3], "nice": false, "zero": false}, "axis": null}, "y": {"field": "item", "type": "nominal", "sort": null, "scale": {"domain": ["Element","C","N","F","Ag","Total:"], "range": [8.3, 183.7], "paddingInner": 0, "paddingOuter": 0}, "axis": null}, "text": {"field": "wt"}}}
          ]
        }
      ]
    },
    {
      "width": 718, "height": 266,
      "resolve": {"scale": {"x": "independent", "y": "independent"}},
      "layer": [
        {
          "resolve": {"axis": {"x": "independent", "y": "independent"}},
          "layer": [
            {"data": {"values": [{}]}, "mark": {"type": "rect", "fill": {"gradient": "linear", "x1": 0, "y1": 1, "x2": 1, "y2": 0, "stops": [{"offset": 0, "color": "#1c3b63"}, {"offset": 1, "color": "#2b5782"}]}}, "encoding": {"x": {"value": 0}, "x2": {"value": "width"}, "y": {"value": 0}, "y2": {"value": "height"}}},
            {"data": {"name": "sD"}, "mark": {"type": "area", "color": "#ffff00", "stroke": "#ffff00", "strokeWidth": 1, "clip": true},
             "encoding": {
               "x": {"field": "keV", "type": "quantitative", "scale": {"domain": [-2.096, 20.03], "nice": false, "zero": false},
                     "axis": {"orient": "bottom", "zindex": 2, "values": [0,0.5,1,1.5,2,2.5,3,3.5,4,4.5,5,5.5,6,6.5,7,7.5,8,8.5,9,9.5,10,10.5,11,11.5,12,12.5,13,13.5,14,14.5,15,15.5,16,16.5,17,17.5,18,18.5,19,19.5,20], "labelExpr": "datum.value % 5 === 0 ? (datum.value === 20 ? 'keV' : format(datum.value, 'd')) : ''", "labelAlign": {"condition": {"test": "datum.value === 20", "value": "right"}, "value": "center"}, "tickSize": {"condition": [{"test": "datum.value % 5 === 0", "value": 12}, {"test": "datum.value % 1 === 0", "value": 8}], "value": 5}, "offset": -33.7, "title": null, "labelFontSize": 14, "labelPadding": 4}},
               "y": {"field": "cps", "type": "quantitative", "scale": {"domain": [-11.66, 72.2], "nice": false, "zero": false},
                     "axis": {"orient": "left", "zindex": 2, "values": [0,5,10,15,20,25,30,35,40,45,50,55,60,65,70], "labelExpr": "datum.value === 0 || datum.value === 50 ? format(datum.value, 'd') : ''", "tickSize": {"condition": {"test": "datum.value === 0 || datum.value === 50", "value": 10}, "value": 6}, "offset": -60, "title": "cps/eV", "titleX": -39, "titleY": 118, "titleAngle": 270, "titleBaseline": "bottom", "titleAlign": "center", "titleFontSize": 13, "labelFontSize": 13, "labelPadding": 4}}
             }},
            {"data": {"values": [{}]}, "mark": {"type": "rect", "fill": "#2a5681"}, "encoding": {"x": {"datum": 7.33, "type": "quantitative", "axis": null}, "x2": {"datum": 20.03}, "y": {"datum": 9.2, "type": "quantitative", "axis": null}, "y2": {"datum": 72.2}}},
            {"data": {"name": "tags"}, "transform": [{"filter": "datum.p === 'D'"}], "mark": {"type": "rule", "color": "#8c9bb0", "strokeWidth": 1, "opacity": 0.8},
             "encoding": {"x": {"field": "keV", "type": "quantitative", "axis": null}, "x2": {"field": "line"}, "y": {"field": "cps", "type": "quantitative", "axis": null}, "y2": {"datum": 0}}},
            {"data": {"name": "tags"}, "transform": [{"filter": "datum.p === 'D' && datum.el !== 'Ag'"}], "mark": {"type": "point", "shape": "M-0.64,-1L0.64,-1L0.64,0.72L0.16,0.72L0,1L-0.16,0.72L-0.64,0.72Z", "size": 625, "filled": true, "fill": "#1d3a5e", "fillOpacity": 0.6, "stroke": "#8a9ab0", "strokeWidth": 1.5, "opacity": 1},
             "encoding": {"x": {"field": "keV", "type": "quantitative", "axis": null}, "y": {"field": "cps", "type": "quantitative", "axis": null}}},
            {"data": {"name": "tags"}, "transform": [{"filter": "datum.p === 'D' && datum.el === 'Ag'"}], "mark": {"type": "point", "shape": "M-1,-1L1,-1L1,0.72L0.16,0.72L0,1L-0.16,0.72L-1,0.72Z", "size": 625, "filled": true, "fill": "#1d3a5e", "fillOpacity": 0.6, "stroke": "#8a9ab0", "strokeWidth": 1.5, "opacity": 1},
             "encoding": {"x": {"field": "keV", "type": "quantitative", "axis": null}, "y": {"field": "cps", "type": "quantitative", "axis": null}}},
            {"data": {"name": "tags"}, "transform": [{"filter": "datum.p === 'D'"}], "mark": {"type": "text", "font": "Open Sans", "fontSize": 14, "color": "#eaea00", "baseline": "middle", "dy": -2},
             "encoding": {"x": {"field": "keV", "type": "quantitative", "axis": null}, "y": {"field": "cps", "type": "quantitative", "axis": null}, "text": {"field": "el"}}},
            {"data": {"values": [{}]}, "mark": {"type": "rect", "fill": "white"}, "encoding": {"x": {"datum": -2.096, "type": "quantitative", "axis": null}, "x2": {"datum": -0.555}, "y": {"datum": 55.8, "type": "quantitative", "axis": null}, "y2": {"datum": 72.2}}},
            {"data": {"values": [{"panel": "D"}]}, "mark": {"type": "text", "font": "Liberation Serif", "fontSize": 28, "color": "black", "baseline": "alphabetic"}, "encoding": {"x": {"datum": -1.17, "type": "quantitative", "axis": null}, "y": {"datum": 60.2, "type": "quantitative", "axis": null}, "text": {"field": "panel"}}}
          ]
        },
        {
          "data": {"name": "tbl"},
          "transform": [{"filter": "datum.p === 'D'"}],
          "layer": [
            {"mark": {"type": "rect", "fill": "transparent", "stroke": "#0d0d0d", "strokeWidth": 1.6}, "encoding": {"x": {"datum": 0, "type": "quantitative", "scale": {"domain": [0, 5], "range": [310.3, 620.3], "nice": false, "zero": false}, "axis": null}, "x2": {"datum": 1.99}, "y": {"field": "item", "type": "nominal", "sort": null, "scale": {"domain": ["Element","C","N","F","Ag","Total:"], "range": [14, 189.3], "paddingInner": 0, "paddingOuter": 0}, "axis": null}}},
            {"mark": {"type": "rect", "fill": "transparent", "stroke": "#0d0d0d", "strokeWidth": 1.6}, "encoding": {"x": {"datum": 1.99, "type": "quantitative", "scale": {"domain": [0, 5], "range": [310.3, 620.3], "nice": false, "zero": false}, "axis": null}, "x2": {"datum": 5}, "y": {"field": "item", "type": "nominal", "sort": null, "scale": {"domain": ["Element","C","N","F","Ag","Total:"], "range": [14, 189.3], "paddingInner": 0, "paddingOuter": 0}, "axis": null}}},
            {"mark": {"type": "text", "font": "Liberation Serif", "fontSize": 23.5, "color": "#f4f4f4", "baseline": "middle", "dy": 1}, "encoding": {"x": {"datum": 0.995, "type": "quantitative", "scale": {"domain": [0, 5], "range": [310.3, 620.3], "nice": false, "zero": false}, "axis": null}, "y": {"field": "item", "type": "nominal", "sort": null, "scale": {"domain": ["Element","C","N","F","Ag","Total:"], "range": [14, 189.3], "paddingInner": 0, "paddingOuter": 0}, "axis": null}, "text": {"field": "item"}}},
            {"mark": {"type": "text", "font": "Liberation Serif", "fontSize": 23.5, "color": "#f4f4f4", "baseline": "middle", "dy": 1}, "encoding": {"x": {"datum": 3.495, "type": "quantitative", "scale": {"domain": [0, 5], "range": [310.3, 620.3], "nice": false, "zero": false}, "axis": null}, "y": {"field": "item", "type": "nominal", "sort": null, "scale": {"domain": ["Element","C","N","F","Ag","Total:"], "range": [14, 189.3], "paddingInner": 0, "paddingOuter": 0}, "axis": null}, "text": {"field": "wt"}}}
          ]
        }
      ]
    },
    {
      "width": 718, "height": 258,
      "resolve": {"scale": {"x": "independent", "y": "independent"}},
      "layer": [
        {
          "resolve": {"axis": {"x": "independent", "y": "independent"}},
          "layer": [
            {"data": {"values": [{}]}, "mark": {"type": "rect", "fill": {"gradient": "linear", "x1": 0, "y1": 1, "x2": 1, "y2": 0, "stops": [{"offset": 0, "color": "#1c3b63"}, {"offset": 1, "color": "#2b5782"}]}}, "encoding": {"x": {"value": 0}, "x2": {"value": "width"}, "y": {"value": 0}, "y2": {"value": "height"}}},
            {"data": {"name": "sE"}, "mark": {"type": "area", "color": "#ffff00", "stroke": "#ffff00", "strokeWidth": 1, "clip": true},
             "encoding": {
               "x": {"field": "keV", "type": "quantitative", "scale": {"domain": [-2.096, 20.03], "nice": false, "zero": false},
                     "axis": {"orient": "bottom", "zindex": 2, "values": [0,0.5,1,1.5,2,2.5,3,3.5,4,4.5,5,5.5,6,6.5,7,7.5,8,8.5,9,9.5,10,10.5,11,11.5,12,12.5,13,13.5,14,14.5,15,15.5,16,16.5,17,17.5,18,18.5,19,19.5,20], "labelExpr": "datum.value % 5 === 0 ? (datum.value === 20 ? 'keV' : format(datum.value, 'd')) : ''", "labelAlign": {"condition": {"test": "datum.value === 20", "value": "right"}, "value": "center"}, "tickSize": {"condition": [{"test": "datum.value % 5 === 0", "value": 11}, {"test": "datum.value % 1 === 0", "value": 8}], "value": 5}, "offset": -29.7, "title": null, "labelFontSize": 13, "labelPadding": -3}},
               "y": {"field": "cps", "type": "quantitative", "scale": {"domain": [-22.8, 155.2], "nice": false, "zero": false},
                     "axis": {"orient": "left", "zindex": 2, "values": [0,10,20,30,40,50,60,70,80,90,100,110,120,130,140,150], "labelExpr": "datum.value === 0 || datum.value === 50 || datum.value === 100 ? format(datum.value, 'd') : ''", "tickSize": {"condition": {"test": "datum.value === 0 || datum.value === 50 || datum.value === 100", "value": 10}, "value": 6}, "offset": -60, "title": "cps/eV", "titleX": -39, "titleY": 115, "titleAngle": 270, "titleBaseline": "bottom", "titleAlign": "center", "titleFontSize": 13, "labelFontSize": 13, "labelPadding": 4}}
             }},
            {"data": {"values": [{}]}, "mark": {"type": "rect", "fill": "#2a5681"}, "encoding": {"x": {"datum": 7.14, "type": "quantitative", "axis": null}, "x2": {"datum": 20.03}, "y": {"datum": 18.4, "type": "quantitative", "axis": null}, "y2": {"datum": 155.2}}},
            {"data": {"name": "tags"}, "transform": [{"filter": "datum.p === 'E'"}], "mark": {"type": "rule", "color": "#8c9bb0", "strokeWidth": 1, "opacity": 0.8},
             "encoding": {"x": {"field": "keV", "type": "quantitative", "axis": null}, "x2": {"field": "line"}, "y": {"field": "cps", "type": "quantitative", "axis": null}, "y2": {"datum": 0}}},
            {"data": {"name": "tags"}, "transform": [{"filter": "datum.p === 'E' && datum.el !== 'Ag'"}], "mark": {"type": "point", "shape": "M-0.64,-1L0.64,-1L0.64,0.72L0.16,0.72L0,1L-0.16,0.72L-0.64,0.72Z", "size": 625, "filled": true, "fill": "#1d3a5e", "fillOpacity": 0.6, "stroke": "#8a9ab0", "strokeWidth": 1.5, "opacity": 1},
             "encoding": {"x": {"field": "keV", "type": "quantitative", "axis": null}, "y": {"field": "cps", "type": "quantitative", "axis": null}}},
            {"data": {"name": "tags"}, "transform": [{"filter": "datum.p === 'E' && datum.el === 'Ag'"}], "mark": {"type": "point", "shape": "M-1,-1L1,-1L1,0.72L0.16,0.72L0,1L-0.16,0.72L-1,0.72Z", "size": 625, "filled": true, "fill": "#1d3a5e", "fillOpacity": 0.6, "stroke": "#8a9ab0", "strokeWidth": 1.5, "opacity": 1},
             "encoding": {"x": {"field": "keV", "type": "quantitative", "axis": null}, "y": {"field": "cps", "type": "quantitative", "axis": null}}},
            {"data": {"name": "tags"}, "transform": [{"filter": "datum.p === 'E'"}], "mark": {"type": "text", "font": "Open Sans", "fontSize": 14, "color": "#eaea00", "baseline": "middle", "dy": -2},
             "encoding": {"x": {"field": "keV", "type": "quantitative", "axis": null}, "y": {"field": "cps", "type": "quantitative", "axis": null}, "text": {"field": "el"}}},
            {"data": {"values": [{}]}, "mark": {"type": "rect", "fill": "white"}, "encoding": {"x": {"datum": -2.096, "type": "quantitative", "axis": null}, "x2": {"datum": -0.555}, "y": {"datum": 122.1, "type": "quantitative", "axis": null}, "y2": {"datum": 155.2}}},
            {"data": {"values": [{"panel": "E"}]}, "mark": {"type": "text", "font": "Liberation Serif", "fontSize": 28, "color": "black", "baseline": "alphabetic"}, "encoding": {"x": {"datum": -1.21, "type": "quantitative", "axis": null}, "y": {"datum": 131.5, "type": "quantitative", "axis": null}, "text": {"field": "panel"}}}
          ]
        },
        {
          "data": {"name": "tbl"},
          "transform": [{"filter": "datum.p === 'E'"}],
          "layer": [
            {"mark": {"type": "rect", "fill": "transparent", "stroke": "#0d0d0d", "strokeWidth": 1.6}, "encoding": {"x": {"datum": 0, "type": "quantitative", "scale": {"domain": [0, 5], "range": [304.3, 613.7], "nice": false, "zero": false}, "axis": null}, "x2": {"datum": 1.98}, "y": {"field": "item", "type": "nominal", "sort": null, "scale": {"domain": ["Element","C","N","F","Ag","Total:"], "range": [12.3, 187], "paddingInner": 0, "paddingOuter": 0}, "axis": null}}},
            {"mark": {"type": "rect", "fill": "transparent", "stroke": "#0d0d0d", "strokeWidth": 1.6}, "encoding": {"x": {"datum": 1.98, "type": "quantitative", "scale": {"domain": [0, 5], "range": [304.3, 613.7], "nice": false, "zero": false}, "axis": null}, "x2": {"datum": 5}, "y": {"field": "item", "type": "nominal", "sort": null, "scale": {"domain": ["Element","C","N","F","Ag","Total:"], "range": [12.3, 187], "paddingInner": 0, "paddingOuter": 0}, "axis": null}}},
            {"mark": {"type": "text", "font": "Liberation Serif", "fontSize": 23.5, "color": "#f4f4f4", "baseline": "middle", "dy": 1}, "encoding": {"x": {"datum": 0.99, "type": "quantitative", "scale": {"domain": [0, 5], "range": [304.3, 613.7], "nice": false, "zero": false}, "axis": null}, "y": {"field": "item", "type": "nominal", "sort": null, "scale": {"domain": ["Element","C","N","F","Ag","Total:"], "range": [12.3, 187], "paddingInner": 0, "paddingOuter": 0}, "axis": null}, "text": {"field": "item"}}},
            {"mark": {"type": "text", "font": "Liberation Serif", "fontSize": 23.5, "color": "#f4f4f4", "baseline": "middle", "dy": 1}, "encoding": {"x": {"datum": 3.49, "type": "quantitative", "scale": {"domain": [0, 5], "range": [304.3, 613.7], "nice": false, "zero": false}, "axis": null}, "y": {"field": "item", "type": "nominal", "sort": null, "scale": {"domain": ["Element","C","N","F","Ag","Total:"], "range": [12.3, 187], "paddingInner": 0, "paddingOuter": 0}, "axis": null}, "text": {"field": "wt"}}}
          ]
        }
      ]
    }
  ]
}
